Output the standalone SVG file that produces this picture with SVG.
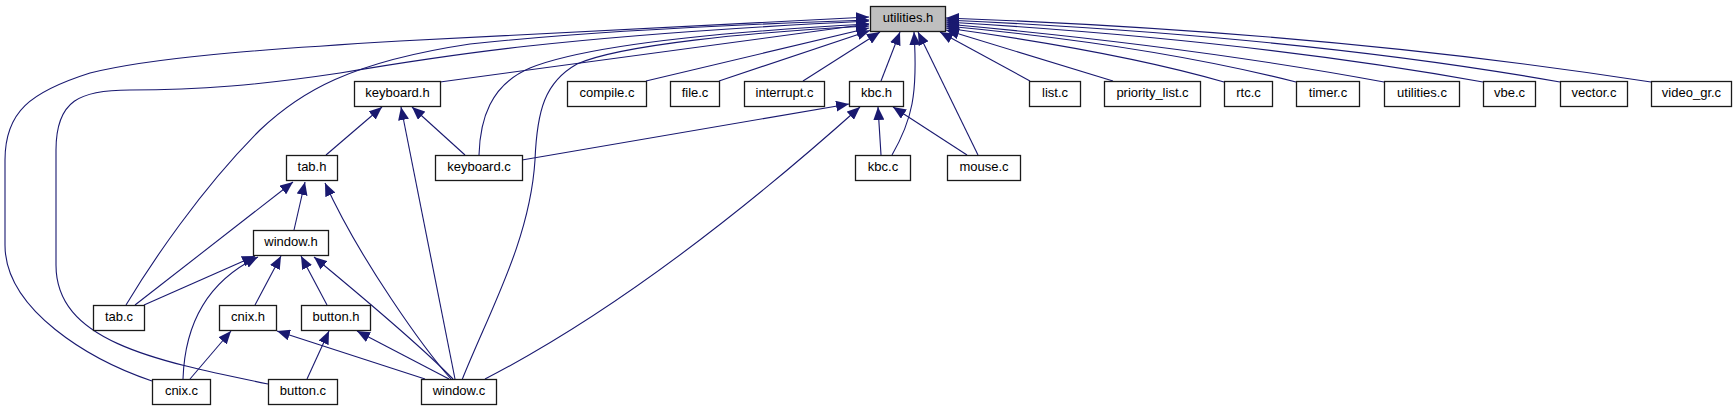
<svg xmlns="http://www.w3.org/2000/svg" width="1736" height="411" viewBox="0 0 1736 411">
<style>
.n rect{fill:#fff;stroke:#1a1a1a;stroke-width:1.3}
.root rect{fill:#bfbfbf}
.n text{font-family:"Liberation Sans",Arial,sans-serif;font-size:13px;text-anchor:middle;fill:#000}
.e path{fill:none;stroke:#191970;stroke-width:1.1;marker-end:url(#ah)}
</style>
<defs>
<marker id="ah" viewBox="0 0 13 11" refX="13" refY="5.5" markerWidth="13" markerHeight="11" markerUnits="userSpaceOnUse" orient="auto">
<path d="M0,0L13,5.5L0,11z" fill="#191970"/>
</marker>
</defs>
<rect width="1736" height="411" fill="#fff"/>
<g id="connectors" class="e">
<path d="M440,82 L869,24"/>
<path d="M646,81 L869,28"/>
<path d="M719,81 L870,30.5"/>
<path d="M803,81 L880,32"/>
<path d="M881,81 L900,32"/>
<path d="M892,155 C912,120 918,95 914,32"/>
<path d="M978,155 L918,32"/>
<path d="M1030,81 L940,32"/>
<path d="M1113,81 L946,30"/>
<path d="M1224,82 Q1120,52 946,28"/>
<path d="M1296,82 Q1150,45 946,26"/>
<path d="M1384,82 Q1190,46 946,24"/>
<path d="M1483,82 Q1250,40 946,22"/>
<path d="M1560,82 Q1300,36 946,20"/>
<path d="M1651,82 Q1330,32 946,18"/>
<path d="M152,381 C90,360 5,310 5,245 L5,160 C5,112 30,92 90,73 C150,58 250,50 400,41 L869,17"/>
<path d="M268,384 C150,360 56,340 56,265 L56,150 C56,100 80,90 130,90 C200,90 260,85 340,73 C440,56 560,36 869,21"/>
<path d="M126,305 C150,265 200,190 260,130 C300,92 350,62 470,44 C600,30 750,24 869,20"/>
<path d="M479,155 C480,120 490,85 530,68 C580,48 700,33 869,24"/>
<path d="M462,380 C490,310 530,240 535,160 C537,110 545,82 577,64 C620,45 750,32 869,26"/>
<path d="M326,155 L382,107"/>
<path d="M455,379 L401,107"/>
<path d="M465,155 L412,107"/>
<path d="M522,160 L849,104"/>
<path d="M881,155 L878,107"/>
<path d="M967,155 L893,107"/>
<path d="M485,379 C580,330 700,250 860,107"/>
<path d="M294,230 L305,182"/>
<path d="M135,305 L293,182"/>
<path d="M451,379 C425,350 360,260 325,183"/>
<path d="M144,305 L255,256"/>
<path d="M183,379 C185,320 210,280 258,257"/>
<path d="M255,305 L281,256"/>
<path d="M327,305 L301,256"/>
<path d="M453,379 C420,345 360,295 314,257"/>
<path d="M190,379 L231,331"/>
<path d="M425,379 L277,331"/>
<path d="M307,379 L329,331"/>
<path d="M449,379 L357,331"/>
</g>
<g id="utilities_h" class="n root"><rect x="870.5" y="6.5" width="75" height="25"/><text x="908" y="22">utilities.h</text></g>
<g id="keyboard_h" class="n"><rect x="354.5" y="81.5" width="86" height="25"/><text x="397.5" y="97">keyboard.h</text></g>
<g id="compile_c" class="n"><rect x="567.5" y="81.5" width="79" height="25"/><text x="607" y="97">compile.c</text></g>
<g id="file_c" class="n"><rect x="670.5" y="81.5" width="49" height="25"/><text x="695" y="97">file.c</text></g>
<g id="interrupt_c" class="n"><rect x="744.5" y="81.5" width="80" height="25"/><text x="784.5" y="97">interrupt.c</text></g>
<g id="kbc_h" class="n"><rect x="849.5" y="81.5" width="54" height="25"/><text x="876.5" y="97">kbc.h</text></g>
<g id="list_c" class="n"><rect x="1029.5" y="81.5" width="51" height="25"/><text x="1055" y="97">list.c</text></g>
<g id="priority_list_c" class="n"><rect x="1104.5" y="81.5" width="96" height="25"/><text x="1152.5" y="97">priority_list.c</text></g>
<g id="rtc_c" class="n"><rect x="1224.5" y="81.5" width="48" height="25"/><text x="1248.5" y="97">rtc.c</text></g>
<g id="timer_c" class="n"><rect x="1296.5" y="81.5" width="63" height="25"/><text x="1328" y="97">timer.c</text></g>
<g id="utilities_c" class="n"><rect x="1384.5" y="81.5" width="75" height="25"/><text x="1422" y="97">utilities.c</text></g>
<g id="vbe_c" class="n"><rect x="1483.5" y="81.5" width="52" height="25"/><text x="1509.5" y="97">vbe.c</text></g>
<g id="vector_c" class="n"><rect x="1560.5" y="81.5" width="67" height="25"/><text x="1594" y="97">vector.c</text></g>
<g id="video_gr_c" class="n"><rect x="1651.5" y="81.5" width="80" height="25"/><text x="1691.5" y="97">video_gr.c</text></g>
<g id="tab_h" class="n"><rect x="286.5" y="155.5" width="51" height="25"/><text x="312" y="171">tab.h</text></g>
<g id="keyboard_c" class="n"><rect x="435.5" y="155.5" width="87" height="25"/><text x="479" y="171">keyboard.c</text></g>
<g id="kbc_c" class="n"><rect x="855.5" y="155.5" width="55" height="25"/><text x="883" y="171">kbc.c</text></g>
<g id="mouse_c" class="n"><rect x="947.5" y="155.5" width="73" height="25"/><text x="984" y="171">mouse.c</text></g>
<g id="window_h" class="n"><rect x="253.5" y="230.5" width="75" height="25"/><text x="291" y="246">window.h</text></g>
<g id="tab_c" class="n"><rect x="93.5" y="305.5" width="51" height="25"/><text x="119" y="321">tab.c</text></g>
<g id="cnix_h" class="n"><rect x="219.5" y="305.5" width="57" height="25"/><text x="248" y="321">cnix.h</text></g>
<g id="button_h" class="n"><rect x="301.5" y="305.5" width="69" height="25"/><text x="336" y="321">button.h</text></g>
<g id="cnix_c" class="n"><rect x="152.5" y="379.5" width="58" height="25"/><text x="181.5" y="395">cnix.c</text></g>
<g id="button_c" class="n"><rect x="268.5" y="379.5" width="69" height="25"/><text x="303" y="395">button.c</text></g>
<g id="window_c" class="n"><rect x="421.5" y="379.5" width="75" height="25"/><text x="459" y="395">window.c</text></g>
</svg>
